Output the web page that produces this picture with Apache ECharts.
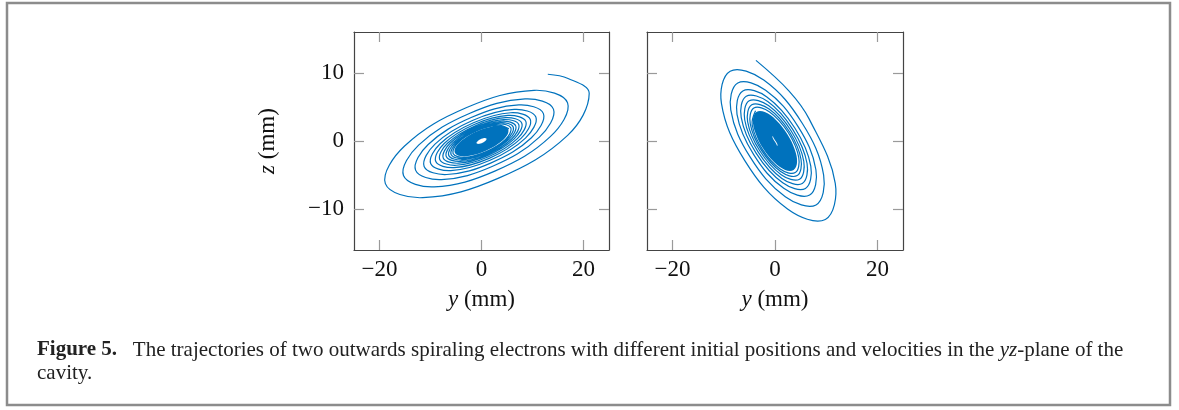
<!DOCTYPE html>
<html>
<head>
<meta charset="utf-8">
<script src="https://cdn.jsdelivr.net/npm/echarts@6/dist/echarts.min.js"></script>
<style>
html,body{margin:0;padding:0;background:#fff;}
#c{width:1179px;height:410px;}
</style>
</head>
<body>
<div id="c"></div>
<script>
// ---- data ----
const xTicks = [-20, 0, 20];
const yTicks = [-10, 0, 10];

// left panel trajectory (y, z) in mm, from the centre outwards
const leftSpiral = [
[5.38,1.78],[3.22,2.33],[-0.89,1.50],[-4.54,-0.22],[-5.58,-1.85],[-3.33,-2.41],[0.92,-1.56],[4.70,0.23],
[5.77,1.91],[3.45,2.50],[-0.95,1.61],[-4.87,-0.24],[-5.97,-1.98],[-3.57,-2.58],[0.99,-1.67],[5.06,0.25],
[6.22,2.06],[3.71,2.69],[-1.02,1.73],[-5.23,-0.26],[-6.42,-2.13],[-3.85,-2.78],[1.06,-1.80],[5.45,0.27],
[6.71,2.22],[4.01,2.90],[-1.10,1.87],[-5.64,-0.28],[-6.91,-2.29],[-4.15,-3.00],[1.15,-1.95],[5.92,0.29],
[7.30,2.42],[4.36,3.15],[-1.20,2.03],[-6.12,-0.30],[-7.50,-2.49],[-4.50,-3.26],[1.25,-2.11],[6.41,0.32],
[7.90,2.62],[4.72,3.42],[-1.30,2.21],[-6.67,-0.33],[-8.19,-2.71],[-4.93,-3.56],[1.37,-2.32],[7.04,0.35],
[8.69,2.88],[5.19,3.75],[-1.43,2.43],[-7.32,-0.36],[-8.98,-2.98],[-5.41,-3.91],[1.50,-2.55],[7.75,0.38],
[9.57,3.17],[5.73,4.15],[-1.58,2.68],[-8.11,-0.40],[-9.97,-3.30],[-6.01,-4.35],[1.67,-2.83],[8.62,0.43],
[10.66,3.53],[6.41,4.63],[-1.78,3.01],[-9.12,-0.45],[-11.25,-3.73],[-6.80,-4.92],[1.90,-3.21],[9.79,0.48],
[12.14,4.02],[7.31,5.29],[-2.03,3.44],[-10.46,-0.52],[-12.93,-4.28],[-7.84,-5.67],[2.19,-3.71],[11.35,0.56],
[14.11,4.68],[8.54,6.18],[-2.38,4.04],[-12.33,-0.61],[-15.30,-5.07],[-9.30,-6.73],[2.61,-4.42],[13.54,0.67],
[16.88,5.59],[10.30,7.44],[-2.90,4.91],[-15.08,-0.74],[-18.85,-6.25],[-11.51,-8.32],[3.24,-5.49],[16.89,0.83],
[21.12,7.00],[16.97,9.18],[13.0,9.8]
];
// dense core of the left trajectory and the empty spot at its centre
const leftCore = [[5.23,1.73],[4.11,2.22],[1.88,2.11],[-0.85,1.44],[-3.35,0.38],[-4.96,-0.78],
[-5.23,-1.73],[-4.11,-2.22],[-1.88,-2.11],[0.85,-1.44],[3.35,-0.38],[4.96,0.78]];
const leftHole = [[1.0,0.3],[0.4,0.42],[-0.4,0.2],[-1.0,-0.3],[-0.4,-0.42],[0.4,-0.2]];

// right panel trajectory (y, z) in mm, from the centre outwards
const rightSpiral = [
[-3.80,4.45],[-4.45,2.35],[-2.48,-1.19],[1.01,-4.10],[3.96,-4.64],[4.64,-2.45],[2.58,1.24],[-1.05,4.27],
[-4.13,4.84],[-4.84,2.56],[-2.70,-1.30],[1.10,-4.48],[4.34,-5.08],[5.08,-2.68],[2.83,1.36],[-1.15,4.69],
[-4.54,5.32],[-5.34,2.82],[-2.98,-1.43],[1.21,-4.94],[4.79,-5.61],[5.62,-2.97],[3.14,1.51],[-1.28,5.20],
[-5.04,5.90],[-5.92,3.12],[-3.31,-1.59],[1.35,-5.49],[5.33,-6.24],[6.26,-3.30],[3.49,1.68],[-1.42,5.79],
[-5.62,6.58],[-6.60,3.48],[-3.69,-1.77],[1.51,-6.13],[5.95,-6.96],[6.99,-3.69],[3.90,1.87],[-1.59,6.47],
[-6.28,7.35],[-7.42,3.91],[-4.16,-2.00],[1.71,-6.95],[6.77,-7.93],[7.99,-4.22],[4.48,2.15],[-1.83,7.46],
[-7.27,8.51],[-8.64,4.56],[-4.87,-2.34],[2.01,-8.18],[8.01,-9.38],[9.50,-5.01],[5.35,2.57],[-2.20,8.95],
[-8.76,10.25],[-10.46,5.52],[-5.93,-2.85],[2.45,-9.99],[9.83,-11.51],[11.77,-6.21],[6.69,3.21],[2.75,7.33],
[-3.72,11.83]
];
const rightCore = [[-3.63,4.25],[-4.31,3.13],[-3.82,1.17],[-2.32,-1.11],[-0.19,-3.09],[1.99,-4.24],
[3.63,-4.25],[4.31,-3.13],[3.82,-1.17],[2.32,1.11],[0.19,3.09],[-1.99,4.24]];
const rightHole = [[-0.45,0.75],[-0.45,0.45],[0.2,-0.35],[0.45,-0.75],[0.45,-0.45],[-0.2,0.35]];

// ---- chart ----
const BLUE = '#0072BD';
const FONT = 'Liberation Serif';
const chart = echarts.init(document.getElementById('c'), null, {renderer: 'canvas'});

const fmt = v => (v < 0 ? '\u2212' + Math.abs(v) : String(v));
const axisLine = {show: true, onZero: false, lineStyle: {color: '#444', width: 1.2}};
const tickStyle = {color: '#9a9a9a', width: 1.2};
const nameStyle = {color: '#111', fontFamily: FONT, fontSize: 23,
  rich: {i: {fontStyle: 'italic', fontFamily: FONT, fontSize: 23, color: '#111'}}};

function xAxes(grid) {
  return [{
    gridIndex: grid, type: 'value', min: -25, max: 25, position: 'bottom',
    axisLine: axisLine,
    axisTick: {show: true, inside: true, length: 10, customValues: xTicks, lineStyle: tickStyle},
    axisLabel: {show: true, customValues: xTicks, formatter: fmt, margin: 8, color: '#111', fontFamily: FONT, fontSize: 23},
    splitLine: {show: false},
    name: '{i|y} (mm)', nameLocation: 'middle', nameGap: 38, nameTextStyle: nameStyle
  }, {
    gridIndex: grid, type: 'value', min: -25, max: 25, position: 'top',
    axisLine: axisLine,
    axisTick: {show: true, inside: true, length: 10, customValues: xTicks, lineStyle: tickStyle},
    axisLabel: {show: false}, splitLine: {show: false}
  }];
}
function yAxes(grid, showLabels) {
  const left = {
    gridIndex: grid, type: 'value', min: -16, max: 16, position: 'left',
    axisLine: axisLine,
    axisTick: {show: true, inside: true, length: 10, customValues: yTicks, lineStyle: tickStyle},
    axisLabel: {show: showLabels, customValues: yTicks, formatter: fmt, margin: 10, color: '#111', fontFamily: FONT, fontSize: 23},
    splitLine: {show: false}
  };
  if (showLabels) {
    Object.assign(left, {name: '{i|z} (mm)', nameLocation: 'middle', nameGap: 75, nameRotate: 90, nameTextStyle: nameStyle});
  }
  return [left, {
    gridIndex: grid, type: 'value', min: -16, max: 16, position: 'right',
    axisLine: axisLine,
    axisTick: {show: true, inside: true, length: 10, customValues: yTicks, lineStyle: tickStyle},
    axisLabel: {show: false}, splitLine: {show: false}
  }];
}

// a closed filled shape drawn through the axes' scales
function blob(xi, yi, pts, color) {
  return {
    type: 'custom', xAxisIndex: xi, yAxisIndex: yi, data: pts, encode: {x: 0, y: 1}, silent: true, z: 3, clip: true,
    renderItem: function (params, api) {
      if (params.dataIndex !== 0) return null;
      return {type: 'polygon', shape: {points: pts.map(p => api.coord(p)), smooth: 0.38},
              style: {fill: color, stroke: null}};
    }
  };
}
// a smooth open trajectory drawn through the axes' scales
function spiral(xi, yi, pts) {
  return {
    type: 'custom', xAxisIndex: xi, yAxisIndex: yi, data: pts, encode: {x: 0, y: 1}, silent: true, z: 2, clip: true,
    renderItem: function (params, api) {
      if (params.dataIndex !== 0) return null;
      return {type: 'polyline', shape: {points: pts.map(p => api.coord(p)), smooth: 0.38},
              style: {fill: null, stroke: BLUE, lineWidth: 1.2}};
    }
  };
}

chart.setOption({
  animation: false,
  backgroundColor: '#fff',
  grid: [
    {left: 354, top: 32, width: 255, height: 218},
    {left: 647, top: 32, width: 256, height: 218}
  ],
  xAxis: [...xAxes(0), ...xAxes(1)],
  yAxis: [...yAxes(0, true), ...yAxes(1, false)],
  series: [
    spiral(0, 0, leftSpiral),
    blob(0, 0, leftCore, BLUE),
    blob(0, 0, leftHole, '#fff'),
    spiral(2, 2, rightSpiral),
    blob(2, 2, rightCore, BLUE),
    blob(2, 2, rightHole, '#fff')
  ],
  graphic: [
    {type: 'rect', shape: {x: 7, y: 3, width: 1163, height: 402}, style: {fill: 'none', stroke: '#8c8c8c', lineWidth: 2.5}, silent: true},
    {type: 'text', x: 37, y: 350, silent: true, style: {
      text: '{b|Figure 5.}   The trajectories of two outwards spiraling electrons with different initial positions and velocities in the {i|yz}-plane of the',
      fontFamily: FONT, fontSize: 21, fill: '#222', verticalAlign: 'middle',
      rich: {b: {fontWeight: 'bold', fontFamily: FONT, fontSize: 21, fill: '#222'}, i: {fontStyle: 'italic', fontFamily: FONT, fontSize: 21, fill: '#222'}}
    }},
    {type: 'text', x: 37, y: 373, silent: true, style: {
      text: 'cavity.', fontFamily: FONT, fontSize: 21, fill: '#222', verticalAlign: 'middle'
    }}
  ]
});
</script>
</body>
</html>
